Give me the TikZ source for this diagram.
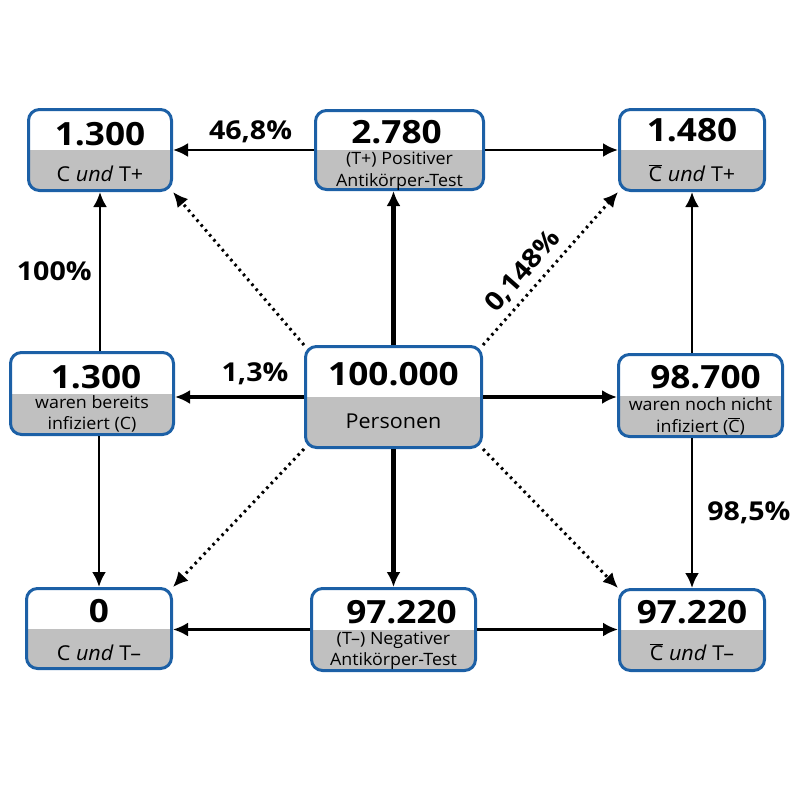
\documentclass[tikz,border=0pt]{standalone}
\usepackage{fontspec}
\setmainfont{Open Sans}[FakeStretch=1.05]
\newfontfamily\numfont{Open Sans}[FakeStretch=1.1]
\usepackage{tikz}
\usetikzlibrary{arrows.meta}
\definecolor{boxblue}{RGB}{28,96,166}
\definecolor{boxgray}{RGB}{192,192,192}

\begin{document}
\begin{tikzpicture}[x=1pt,y=-1pt]
\tikzset{>={Latex[width=14pt,length=15pt]}}
\tikzstyle{state}=[draw=boxblue,line width=3pt,rounded corners=11pt,inner sep=0pt,
  path picture={\fill[boxgray,sharp corners] ([xshift=-6pt]path picture bounding box.west) rectangle ([xshift=6pt,yshift=-6pt]path picture bounding box.south east);}]
\tikzstyle{num}=[font=\numfont\bfseries\fontsize{32}{36}\selectfont,inner sep=0pt,anchor=base]
\tikzstyle{sub}=[font=\fontsize{20.5}{24}\selectfont,inner sep=0pt,anchor=base]
\tikzstyle{subtwo}=[font=\fontsize{17}{21.5}\selectfont,inner sep=0pt,align=center]
\tikzstyle{pct}=[font=\numfont\bfseries\fontsize{26}{30}\selectfont,inner sep=0pt]
\tikzstyle{arrowthin}=[->,line width=2.7pt]
\tikzstyle{arrowthick}=[->,line width=4.7pt]
\tikzstyle{dotarrow}=[->,line width=3pt,dash pattern=on 2.5pt off 4pt]

\useasboundingbox (0,0) rectangle (800,800);

% boxes
\node[state,minimum width=143pt,minimum height=81pt](cpos) at (100,150){};
\node[state,minimum width=168pt,minimum height=79pt](tpos) at (399.5,150){};
\node[state,minimum width=145pt,minimum height=81pt](nbpos) at (692,150){};
\node[state,minimum width=163pt,minimum height=82pt](inf) at (92,393.5){};
\node[state,minimum width=176pt,minimum height=101pt](total) at (393.5,397){};
\node[state,minimum width=164pt,minimum height=82pt](notinf) at (700.5,395.5){};
\node[state,minimum width=145pt,minimum height=80pt](cneg) at (99,628.5){};
\node[state,minimum width=164pt,minimum height=82pt](tneg) at (393.5,629.5){};
\node[state,minimum width=145pt,minimum height=81pt](nbneg) at (692,630){};

% texts
\node[num] at ([yshift=5pt]cpos.center){1.300};
\node[sub] at ([yshift=-31pt]cpos.center){C \textit{und} T+};
\node[num] at ([xshift=-3pt,yshift=7pt]tpos.center){2.780};
\node[subtwo] at ([yshift=-21.5pt]tpos.center){(T+) Positiver\\Antikörper-Test};
\node[num] at ([yshift=9pt]nbpos.center){1.480};
\node[sub] at ([yshift=-31pt]nbpos.center){$\overline{\mbox{C}}$ \textit{und} T+};
\node[num] at ([xshift=4pt,yshift=5.5pt]inf.center){1.300};
\node[subtwo] at ([yshift=-20.5pt]inf.center){waren bereits\\infiziert (C)};
\node[num] at ([yshift=12pt]total.center){100.000};
\node[sub] at ([yshift=-31pt]total.center){Personen};
\node[num] at ([xshift=5pt,yshift=7.5pt]notinf.center){98.700};
\node[subtwo] at ([yshift=-21pt]notinf.center){waren noch nicht\\infiziert ($\overline{\mbox{C}}$)};
\node[num] at ([yshift=6.5pt]cneg.center){0};
\node[sub] at ([yshift=-31.5pt]cneg.center){C \textit{und} T\textendash};
\node[num] at ([xshift=8pt,yshift=6.5pt]tneg.center){97.220};
\node[subtwo] at ([yshift=-21.5pt]tneg.center){(T\textendash) Negativer\\Antikörper-Test};
\node[num] at ([yshift=7pt]nbneg.center){97.220};
\node[sub] at ([yshift=-30pt]nbneg.center){$\overline{\mbox{C}}$ \textit{und} T\textendash};

% arrows
\draw[arrowthick] (total.north) -- (total.north |- tpos.south);
\draw[arrowthick] (total.south) -- (total.south |- tneg.north);
\draw[arrowthick] (total.west) -- (total.west -| inf.east) node[pct,pos=0.38,above=10pt]{1,3\%};
\draw[arrowthick] (total.east) -- (total.east -| notinf.west);
\draw[arrowthin] (tpos.west) -- (tpos.west -| cpos.east) node[pct,pos=0.45,above=6pt]{46,8\%};
\draw[arrowthin] (tpos.east) -- (tpos.east -| nbpos.west);
\draw[arrowthin] (inf.north -| cpos.south) -- (cpos.south) node[pct,midway,left=7pt]{100\%};
\draw[arrowthin] (inf.south -| cneg.north) -- (cneg.north);
\draw[arrowthin] (notinf.north -| nbpos.south) -- (nbpos.south);
\draw[arrowthin] (notinf.south -| nbneg.north) -- (nbneg.north) node[pct,midway,right=14pt]{98,5\%};
\draw[arrowthin] (tneg.west) -- (tneg.west -| cneg.east);
\draw[arrowthin] (tneg.east) -- (tneg.east -| nbneg.west);
\draw[dotarrow] (total.north west) -- (cpos.south east);
\draw[dotarrow] (total.north east) -- (nbpos.south west) node[pct,pos=0.4,sloped,above=6pt]{0,148\%};
\draw[dotarrow] (total.south west) -- (cneg.north east);
\draw[dotarrow] (total.south east) -- (nbneg.north west);
\end{tikzpicture}
\end{document}
